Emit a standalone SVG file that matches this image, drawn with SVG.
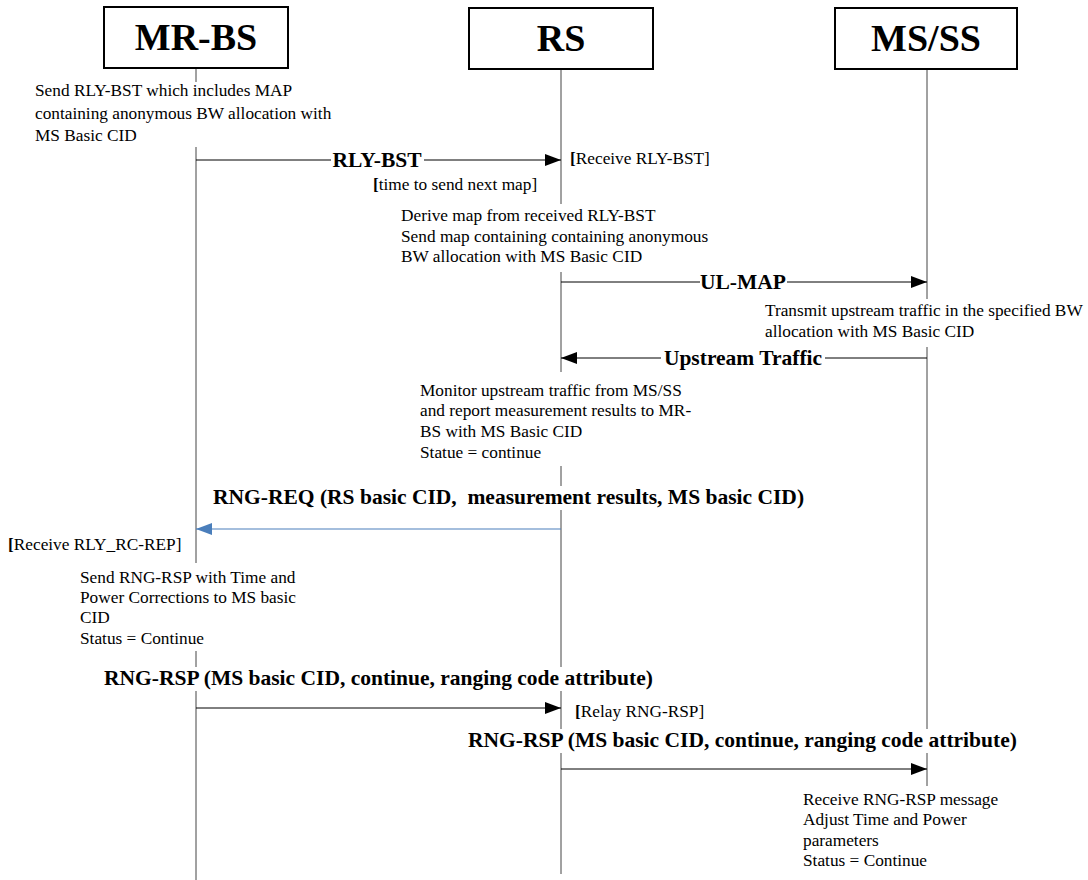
<svg xmlns="http://www.w3.org/2000/svg" width="1088" height="880" viewBox="0 0 1088 880">
  <defs>
    <marker id="arrow" markerUnits="userSpaceOnUse" markerWidth="16" markerHeight="12" refX="16" refY="6" orient="auto">
      <path d="M0,0 L16,6 L0,12 Z" fill="#000"/>
    </marker>
    <marker id="arrow-blue" markerUnits="userSpaceOnUse" markerWidth="16" markerHeight="12" refX="16" refY="6" orient="auto">
      <path d="M0,0 L16,6 L0,12 Z" fill="#4a7ebb"/>
    </marker>
    <style>
      .box { fill: #fff; stroke: #000; stroke-width: 2; }
      .title { font-weight: bold; font-size: 38px; text-anchor: middle; fill: #000; }
      .life { stroke: #444; stroke-width: 1; }
      .bg { fill: #fff; }
      .note { font-size: 17.3px; fill: #000; }
      .msg { font-size: 21.5px; font-weight: bold; fill: #000; white-space: pre; }
      .mid { text-anchor: middle; }
      .b { font-weight: bold; }
      .wire { stroke: #000; stroke-width: 1; fill: none; }
      .wire-blue { stroke: #4a7ebb; stroke-width: 1.2; fill: none; }
    </style>
  </defs>

  <rect width="1088" height="880" fill="#fff"/>

  <g font-family="Liberation Serif, DejaVu Serif, serif">
  <!-- participants with their lifelines -->
  <g id="node-mrbs">
    <line class="life" x1="196" y1="68" x2="196" y2="880"/>
    <rect class="box" x="104" y="7" width="184" height="61"/>
    <text class="title" x="196" y="50">MR-BS</text>
  </g>
  <g id="node-rs">
    <line class="life" x1="561" y1="69" x2="561" y2="874"/>
    <rect class="box" x="469" y="8" width="184" height="61"/>
    <text class="title" x="561" y="51">RS</text>
  </g>
  <g id="node-msss">
    <line class="life" x1="927" y1="69" x2="927" y2="790"/>
    <rect class="box" x="835" y="8" width="182" height="61"/>
    <text class="title" x="926" y="51">MS/SS</text>
  </g>

  <!-- action notes (white boxes interrupt the lifelines) -->
  <g id="note-mrbs-send-bst">
    <rect class="bg" x="30" y="82" width="306" height="65"/>
    <text class="note" x="35" y="96">Send RLY-BST which includes MAP</text>
    <text class="note" x="35" y="119">containing anonymous BW allocation with</text>
    <text class="note" x="35" y="141">MS Basic CID</text>
  </g>
  <g id="note-rs-receive-bst">
    <text class="note" x="570" y="164"><tspan class="b">[</tspan>Receive RLY-BST]</text>
  </g>
  <g id="note-time-next-map">
    <text class="note" x="373" y="190"><tspan class="b">[</tspan>time to send next map]</text>
  </g>
  <g id="note-rs-derive">
    <rect class="bg" x="396" y="204" width="312" height="68"/>
    <text class="note" x="401" y="221">Derive map from received RLY-BST</text>
    <text class="note" x="401" y="242">Send map containing containing anonymous</text>
    <text class="note" x="401" y="262">BW allocation with MS Basic CID</text>
  </g>
  <g id="note-ms-transmit">
    <rect class="bg" x="760" y="299" width="328" height="48"/>
    <text class="note" x="765" y="316">Transmit upstream traffic in the specified BW</text>
    <text class="note" x="765" y="337">allocation with MS Basic CID</text>
  </g>
  <g id="note-rs-monitor">
    <rect class="bg" x="415" y="372" width="280" height="94"/>
    <text class="note" x="420" y="396">Monitor upstream traffic from MS/SS</text>
    <text class="note" x="420" y="416">and report measurement results to MR-</text>
    <text class="note" x="420" y="437">BS with MS Basic CID</text>
    <text class="note" x="420" y="458">Statue = continue</text>
  </g>
  <g id="note-mrbs-receive-rep">
    <text class="note" x="8" y="550"><tspan class="b">[</tspan>Receive RLY_RC-REP]</text>
  </g>
  <g id="note-mrbs-send-rsp">
    <rect class="bg" x="75" y="563" width="225" height="88"/>
    <text class="note" x="80" y="583">Send RNG-RSP with Time and</text>
    <text class="note" x="80" y="603">Power Corrections to MS basic</text>
    <text class="note" x="80" y="623">CID</text>
    <text class="note" x="80" y="644">Status = Continue</text>
  </g>
  <g id="note-rs-relay">
    <text class="note" x="575" y="717"><tspan class="b">[</tspan>Relay RNG-RSP]</text>
  </g>
  <g id="note-ms-receive-rsp">
    <rect class="bg" x="798" y="786" width="205" height="94"/>
    <text class="note" x="803" y="805">Receive RNG-RSP message</text>
    <text class="note" x="803" y="825">Adjust Time and Power</text>
    <text class="note" x="803" y="846">parameters</text>
    <text class="note" x="803" y="866">Status = Continue</text>
  </g>

  <!-- messages -->
  <g id="connectors">
    <g id="msg-rly-bst">
      <line class="wire" x1="196" y1="160" x2="561" y2="160" marker-end="url(#arrow)"/>
      <rect class="bg" x="331" y="150" width="93" height="20"/>
      <text class="msg mid" x="377" y="167">RLY-BST</text>
    </g>
    <g id="msg-ul-map">
      <line class="wire" x1="561" y1="282" x2="927" y2="282" marker-end="url(#arrow)"/>
      <rect class="bg" x="700" y="272" width="87" height="20"/>
      <text class="msg mid" x="743" y="289">UL-MAP</text>
    </g>
    <g id="msg-upstream">
      <line class="wire" x1="927" y1="358" x2="561" y2="358" marker-end="url(#arrow)"/>
      <rect class="bg" x="661" y="348" width="164" height="20"/>
      <text class="msg mid" x="743" y="365">Upstream Traffic</text>
    </g>
    <g id="msg-rng-req">
      <rect class="bg" x="209" y="486" width="600" height="24"/>
      <text class="msg" x="213" y="504">RNG-REQ (RS basic CID,  measurement results, MS basic CID)</text>
      <line class="wire-blue" x1="561" y1="529" x2="196" y2="529" marker-end="url(#arrow-blue)"/>
    </g>
    <g id="msg-rng-rsp-relay">
      <rect class="bg" x="100" y="667" width="560" height="24"/>
      <text class="msg" x="104" y="685">RNG-RSP (MS basic CID, continue, ranging code attribute)</text>
      <line class="wire" x1="196" y1="708" x2="561" y2="708" marker-end="url(#arrow)"/>
    </g>
    <g id="msg-rng-rsp-ms">
      <rect class="bg" x="464" y="729" width="560" height="24"/>
      <text class="msg" x="468" y="747">RNG-RSP (MS basic CID, continue, ranging code attribute)</text>
      <line class="wire" x1="561" y1="769" x2="927" y2="769" marker-end="url(#arrow)"/>
    </g>
  </g>
  </g>
</svg>
